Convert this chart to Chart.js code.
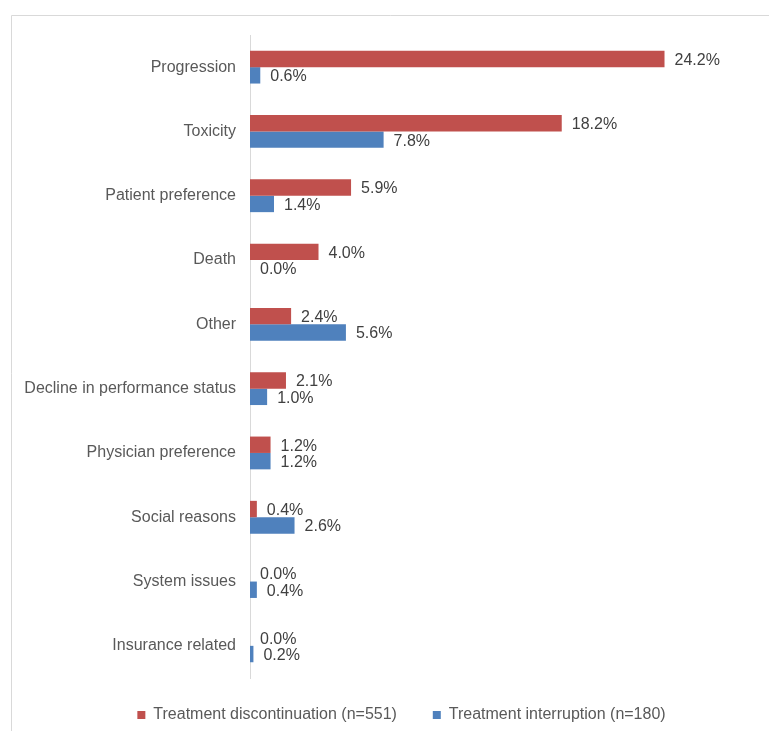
<!DOCTYPE html>
<html>
<head>
<meta charset="utf-8">
<script src="https://cdn.jsdelivr.net/npm/chart.js@4"></script>
<style>
  html, body { margin: 0; padding: 0; background: #fff; }
  #wrap { width: 769px; height: 731px; position: relative; }
</style>
</head>
<body>
<div id="wrap"><canvas id="chart" width="769" height="731"></canvas></div>
<script>
const reasons = [
  'Progression', 'Toxicity', 'Patient preference', 'Death', 'Other',
  'Decline in performance status', 'Physician preference', 'Social reasons',
  'System issues', 'Insurance related'
];
const discontinuation = [24.2, 18.2, 5.9, 4.0, 2.4, 2.1, 1.2, 0.4, 0.0, 0.0];
const interruption = [0.6, 7.8, 1.4, 0.0, 5.6, 1.0, 1.2, 2.6, 0.4, 0.2];

const FONT = '"Liberation Sans", Arial, sans-serif';

// light frame round the chart, cut off on the right and at the bottom
const frame = {
  id: 'frame',
  beforeDraw(chart) {
    const c = chart.ctx;
    c.save();
    c.strokeStyle = '#d9d9d9';
    c.lineWidth = 1;
    c.beginPath();
    c.moveTo(11.5, chart.height);
    c.lineTo(11.5, 15.5);
    c.lineTo(chart.width, 15.5);
    c.stroke();
    c.restore();
  },
  // nudge the legend a little right and down
  afterLayout(chart) {
    const lg = chart.legend;
    lg.left += 7; lg.right += 7;
    lg.top += 2; lg.bottom += 2;
  }
};

// value labels at the end of each bar
const valueLabels = {
  id: 'valueLabels',
  afterDatasetsDraw(chart) {
    const c = chart.ctx;
    c.save();
    c.font = '16px ' + FONT;
    c.fillStyle = '#404040';
    c.textAlign = 'left';
    c.textBaseline = 'middle';
    chart.data.datasets.forEach((ds, i) => {
      chart.getDatasetMeta(i).data.forEach((bar, j) => {
        c.fillText(ds.data[j].toFixed(1) + '%', bar.x + 10, bar.y + 1.5);
      });
    });
    c.restore();
  }
};

new Chart(document.getElementById('chart'), {
  type: 'bar',
  data: {
    labels: reasons,
    datasets: [
      {
        label: 'Treatment discontinuation (n=551)',
        data: discontinuation,
        backgroundColor: '#c0504d',
        borderColor: '#c0504d',
        categoryPercentage: 0.51,
        barPercentage: 1.0
      },
      {
        label: 'Treatment interruption (n=180)',
        data: interruption,
        backgroundColor: '#4f81bd',
        borderColor: '#4f81bd',
        categoryPercentage: 0.51,
        barPercentage: 1.0
      }
    ]
  },
  options: {
    indexAxis: 'y',
    responsive: false,
    animation: false,
    layout: { padding: { left: 20, right: 0, top: 35, bottom: 0 } },
    scales: {
      x: {
        display: false,
        min: 0,
        max: 30.3
      },
      y: {
        afterFit(scale) { scale.width = 230; },
        grid: { display: false, drawTicks: false },
        border: { display: true, color: '#d9d9d9', width: 1 },
        ticks: {
          padding: 14,
          color: '#595959',
          font: { family: FONT, size: 16 }
        }
      }
    },
    plugins: {
      tooltip: { enabled: false },
      legend: {
        position: 'bottom',
        labels: {
          boxWidth: 8,
          boxHeight: 8,
          padding: 27,
          color: '#595959',
          font: { family: FONT, size: 16 },
          generateLabels(chart) {
            const items = Chart.defaults.plugins.legend.labels.generateLabels(chart);
            // a bit more room between the two entries
            items[0].text += '  ';
            return items;
          }
        }
      }
    }
  },
  plugins: [frame, valueLabels]
});
</script>
</body>
</html>
